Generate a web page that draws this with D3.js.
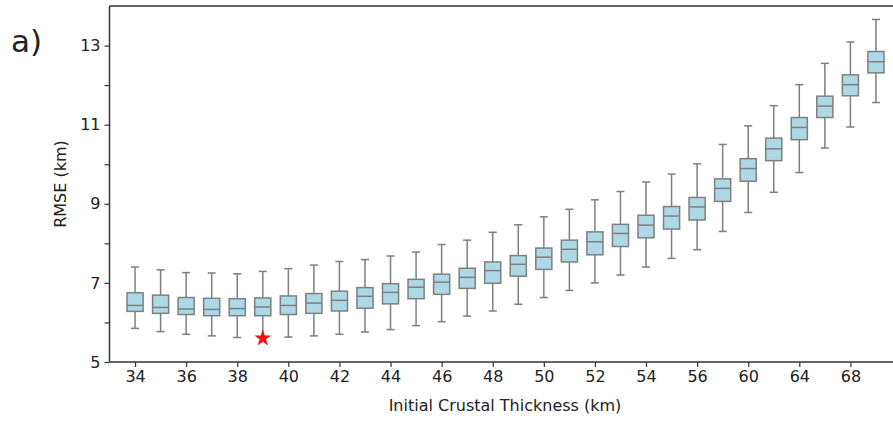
<!DOCTYPE html>
<html>
<head>
<meta charset="utf-8">
<script src="https://cdn.jsdelivr.net/npm/d3@7"></script>
<style>
  html, body { margin: 0; padding: 0; background: #fff; }
  svg { display: block; }
  text { font-family: "DejaVu Sans", sans-serif; fill: #222; }
</style>
</head>
<body>
<svg id="chart" width="893" height="421"></svg>
<script>
// ---- data ----
const categories = [34,35,36,37,38,39,40,41,42,43,44,45,46,47,48,49,50,51,52,53,54,55,56,58,60,62,64,66,68,70];
const whiskerLow  = [5.85,5.77,5.70,5.66,5.62,5.64,5.63,5.66,5.70,5.76,5.82,5.92,6.02,6.16,6.29,6.46,6.63,6.81,7.00,7.20,7.40,7.62,7.84,8.30,8.78,9.29,9.79,10.41,10.94,11.56];
const q1          = [6.28,6.23,6.20,6.17,6.17,6.17,6.20,6.23,6.29,6.36,6.47,6.60,6.71,6.86,6.99,7.17,7.34,7.53,7.71,7.92,8.14,8.36,8.59,9.06,9.57,10.09,10.62,11.18,11.73,12.31];
const medians     = [6.43,6.38,6.34,6.33,6.35,6.39,6.43,6.49,6.56,6.66,6.76,6.89,7.02,7.14,7.31,7.47,7.65,7.85,8.04,8.25,8.46,8.69,8.92,9.39,9.89,10.39,10.93,11.47,12.01,12.59];
const q3          = [6.75,6.69,6.63,6.61,6.60,6.62,6.67,6.73,6.79,6.88,6.98,7.09,7.22,7.37,7.53,7.69,7.88,8.08,8.29,8.48,8.71,8.93,9.16,9.63,10.14,10.66,11.18,11.72,12.26,12.85];
const whiskerHigh = [7.40,7.33,7.26,7.25,7.23,7.29,7.36,7.45,7.54,7.59,7.68,7.78,7.97,8.08,8.28,8.47,8.67,8.86,9.10,9.31,9.55,9.75,10.01,10.50,10.97,11.48,12.01,12.55,13.09,13.66];
const xTickLabels = ["34","36","38","40","42","44","46","48","50","52","54","56","60","64","68"];
const yTicks = [5,6,7,8,9,10,11,12,13];
const yTickLabels = {5:"5",7:"7",9:"9",11:"11",13:"13"};
const best = {category: 39, value: 5.60};

// ---- layout ----
const svg = d3.select("#chart");
const plotLeft = 109.5, plotRight = 901.5, plotTop = 6, plotBottom = 362;
const stroke = "#7f7f7f";

const x = d3.scalePoint().domain(categories).range([plotLeft, plotRight]).padding(1);
const y = d3.scaleLinear().domain([5, 14]).range([plotBottom, plotTop]);
const step = x.step();
const boxW = step * 0.63;
const capW = boxW / 2;

// tick positions: every other box; labels as in original
const tickCats = categories.filter((c, i) => i % 2 === 0 && i <= 28);
const xAxis = d3.axisBottom(x).tickValues(tickCats)
  .tickFormat((d, i) => xTickLabels[i]).tickSizeOuter(0).tickSize(5).tickPadding(4);
const yAxis = d3.axisLeft(y).tickValues(yTicks)
  .tickFormat(d => yTickLabels[d] || "").tickSizeOuter(0).tickSize(5).tickPadding(4);

const gx = svg.append("g").attr("transform", `translate(0,${plotBottom})`).call(xAxis);
const gy = svg.append("g").attr("transform", `translate(${plotLeft},0)`).call(yAxis);
[gx, gy].forEach(g => {
  g.select(".domain").remove();
  g.selectAll(".tick line").attr("stroke", "#333").attr("stroke-width", 1.2);
  g.selectAll(".tick text").attr("font-size", 16).attr("font-family", "DejaVu Sans").attr("fill", "#222");
});

// spines
svg.append("line").attr("x1", plotLeft).attr("x2", plotLeft).attr("y1", plotTop).attr("y2", plotBottom)
  .attr("stroke", "#333").attr("stroke-width", 1.5);
svg.append("line").attr("x1", plotLeft).attr("x2", plotRight).attr("y1", plotBottom).attr("y2", plotBottom)
  .attr("stroke", "#333").attr("stroke-width", 1.5);
svg.append("line").attr("x1", plotLeft).attr("x2", plotRight).attr("y1", plotTop).attr("y2", plotTop)
  .attr("stroke", "#333").attr("stroke-width", 1.5);

// boxes
const data = categories.map((c, i) => ({
  c, lo: whiskerLow[i], q1: q1[i], med: medians[i], q3: q3[i], hi: whiskerHigh[i]
}));
const g = svg.append("g");
const b = g.selectAll("g.box").data(data).join("g").attr("class", "box");
b.append("line").attr("x1", d => x(d.c)).attr("x2", d => x(d.c))
  .attr("y1", d => y(d.hi)).attr("y2", d => y(d.q3)).attr("stroke", stroke).attr("stroke-width", 1.5);
b.append("line").attr("x1", d => x(d.c)).attr("x2", d => x(d.c))
  .attr("y1", d => y(d.q1)).attr("y2", d => y(d.lo)).attr("stroke", stroke).attr("stroke-width", 1.5);
b.append("line").attr("x1", d => x(d.c) - capW / 2).attr("x2", d => x(d.c) + capW / 2)
  .attr("y1", d => y(d.hi)).attr("y2", d => y(d.hi)).attr("stroke", stroke).attr("stroke-width", 1.5);
b.append("line").attr("x1", d => x(d.c) - capW / 2).attr("x2", d => x(d.c) + capW / 2)
  .attr("y1", d => y(d.lo)).attr("y2", d => y(d.lo)).attr("stroke", stroke).attr("stroke-width", 1.5);
b.append("rect").attr("x", d => x(d.c) - boxW / 2).attr("width", boxW)
  .attr("y", d => y(d.q3)).attr("height", d => y(d.q1) - y(d.q3))
  .attr("fill", "#add8e6").attr("stroke", stroke).attr("stroke-width", 1.5);
b.append("line").attr("x1", d => x(d.c) - boxW / 2).attr("x2", d => x(d.c) + boxW / 2)
  .attr("y1", d => y(d.med)).attr("y2", d => y(d.med)).attr("stroke", stroke).attr("stroke-width", 1.5);

// best-fit star
svg.append("path")
  .attr("d", d3.symbol().type(d3.symbolStar).size(88)())
  .attr("transform", `translate(${x(best.category)},${y(best.value)})`)
  .attr("fill", "#f01010");

// labels
svg.append("text").attr("x", 505).attr("y", 411)
  .attr("text-anchor", "middle").attr("font-size", 16).text("Initial Crustal Thickness (km)");
svg.append("text").attr("transform", `translate(66,${(plotTop + plotBottom) / 2}) rotate(-90)`)
  .attr("text-anchor", "middle").attr("font-size", 16).text("RMSE (km)");
svg.append("text").attr("x", 11).attr("y", 52).attr("font-size", 31).text("a)");
</script>
</body>
</html>
